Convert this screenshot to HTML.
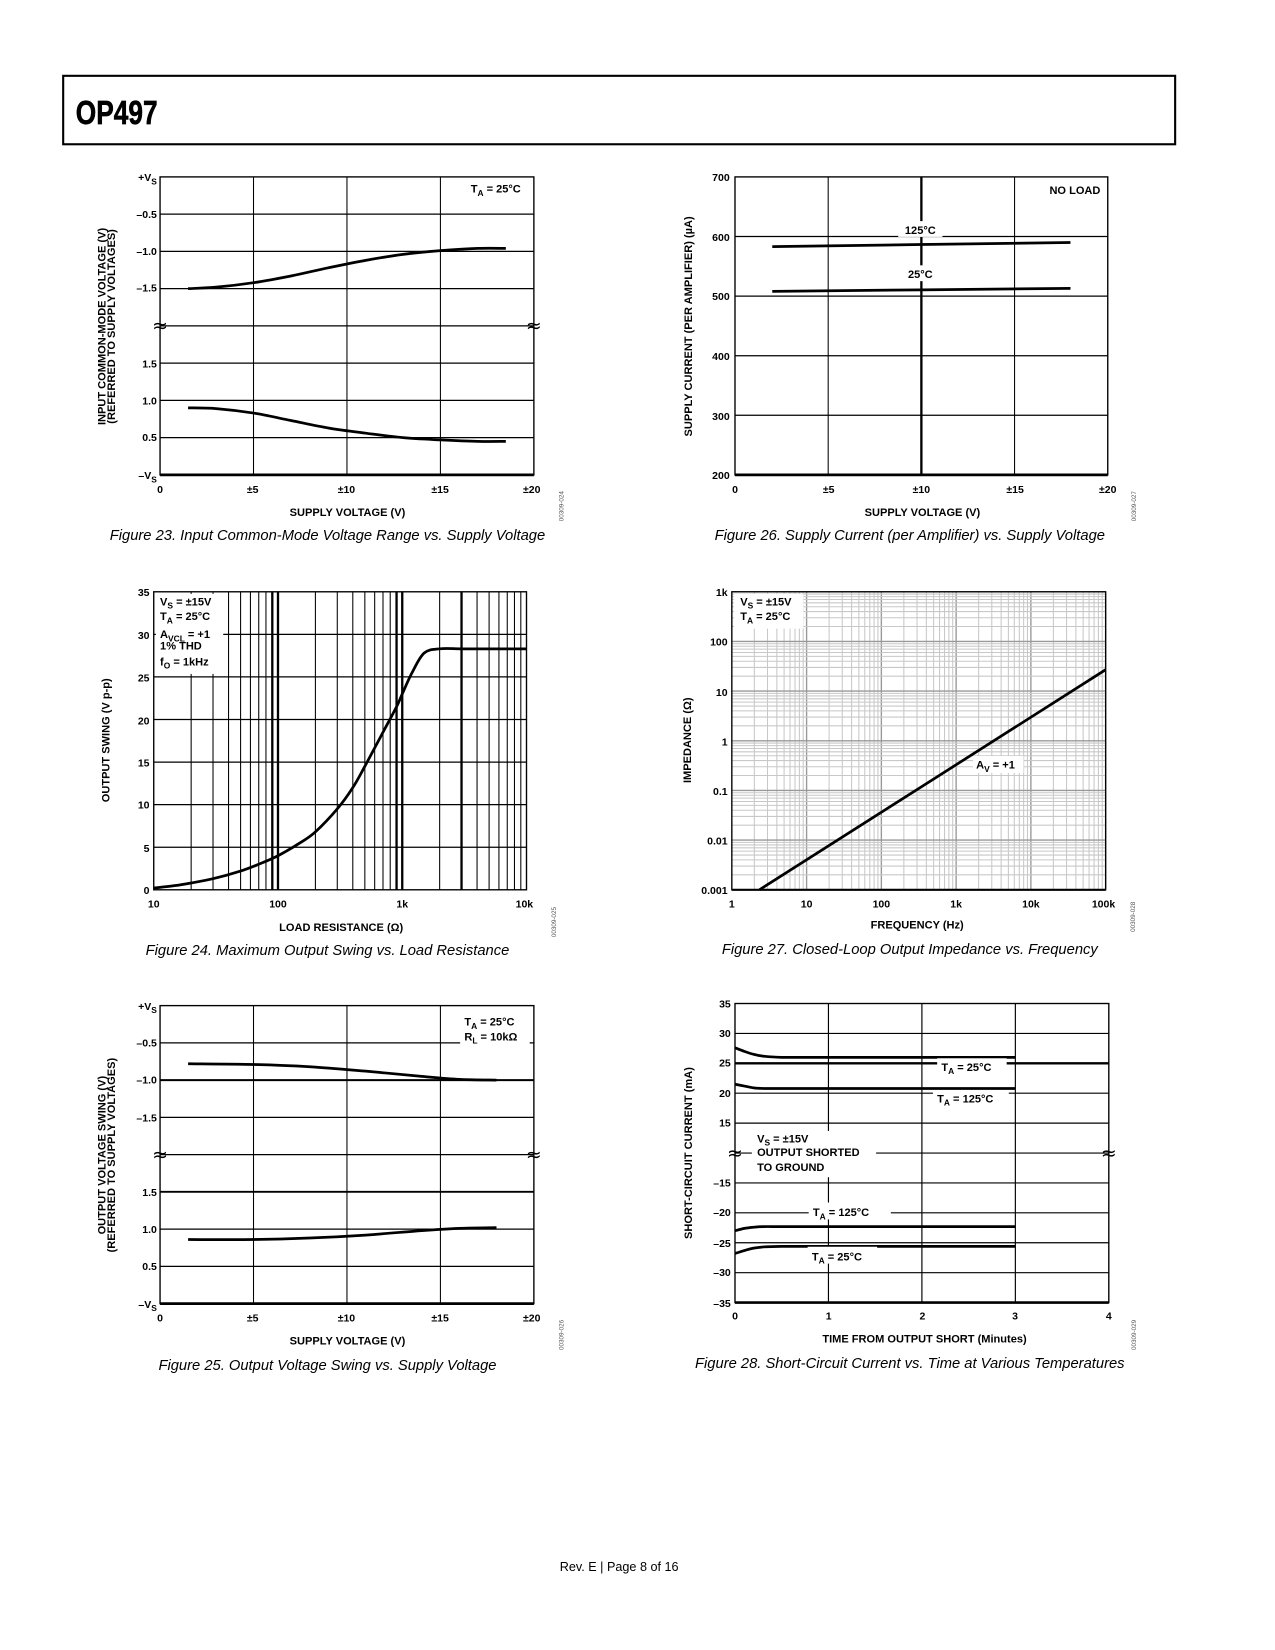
<!DOCTYPE html>
<html><head><meta charset="utf-8"><style>
html,body{margin:0;padding:0;background:#fff;}
svg{display:block;font-family:"Liberation Sans",Arial,sans-serif;}
.tk{font-size:10px;font-weight:bold;}
.at{font-size:10.5px;font-weight:bold;}
.cap{font-size:14px;font-style:italic;}
.lg{font-size:10.5px;font-weight:bold;}
.code{font-size:6px;fill:#555;}
</style></head><body>
<svg id="page" width="1275" height="1650" viewBox="0 0 1275 1650" xmlns="http://www.w3.org/2000/svg">
<g id="root" transform="scale(1.053)">
<rect x="60" y="72" width="1056" height="65" fill="none" stroke="#000" stroke-width="2"/>
<text x="72" y="118" font-size="32" font-weight="bold" stroke="#000" stroke-width="0.6" transform="translate(72 0) scale(0.78 1) translate(-72 0)" font-family="'Liberation Sans Narrow','Liberation Sans',sans-serif">OP497</text>
<g id="charts"></g>

<!-- Figure 23 labels -->
<g class="tk" text-anchor="end">
<text x="149" y="172">+V<tspan font-size="8" dy="3">S</tspan></text>
<text x="149" y="207">–0.5</text><text x="149" y="242">–1.0</text><text x="149" y="277">–1.5</text>
<text x="149" y="349">1.5</text><text x="149" y="384">1.0</text><text x="149" y="419">0.5</text>
<text x="149" y="455">–V<tspan font-size="8" dy="3">S</tspan></text>
</g>
<g class="tk" text-anchor="middle">
<text x="152" y="468">0</text><text x="240" y="468">±5</text><text x="329" y="468">±10</text><text x="418" y="468">±15</text><text x="505" y="468">±20</text></g>
<text class="at" x="330" y="490" text-anchor="middle">SUPPLY VOLTAGE (V)</text>
<text class="at" transform="translate(100 310) rotate(-90)" text-anchor="middle" font-size="10">INPUT COMMON-MODE VOLTAGE (V)<tspan x="0" dy="9">(REFERRED TO SUPPLY VOLTAGES)</tspan></text>
<g class="lg"><rect x="444" y="172" width="60" height="16" fill="#fff"/><text x="447" y="183">T<tspan font-size="8" dy="3">A</tspan><tspan dy="-3"> = 25°C</tspan></text></g>
<text class="code" transform="translate(535 495) rotate(-90)">00309-024</text>
<text class="cap" x="311" y="513" text-anchor="middle">Figure 23. Input Common-Mode Voltage Range vs. Supply Voltage</text>

<!-- Figure 26 labels -->
<g class="tk" text-anchor="end">
<text x="693" y="172">700</text><text x="693" y="229">600</text><text x="693" y="285">500</text><text x="693" y="342">400</text><text x="693" y="399">300</text><text x="693" y="455">200</text></g>
<g class="tk" text-anchor="middle">
<text x="698" y="468">0</text><text x="787" y="468">±5</text><text x="875" y="468">±10</text><text x="964" y="468">±15</text><text x="1052" y="468">±20</text></g>
<text class="at" x="876" y="490" text-anchor="middle">SUPPLY VOLTAGE (V)</text>
<text class="at" transform="translate(657 310) rotate(-90)" text-anchor="middle" font-size="10">SUPPLY CURRENT (PER AMPLIFIER) (µA)</text>
<g class="lg"><rect x="985" y="172" width="62" height="16" fill="#fff"/><text x="1045" y="184" text-anchor="end">NO LOAD</text></g>
<g class="lg"><rect x="853" y="210" width="42" height="15" fill="#fff"/><text x="874" y="222" text-anchor="middle">125°C</text>
<rect x="856" y="252" width="36" height="15" fill="#fff"/><text x="874" y="264" text-anchor="middle">25°C</text></g>
<text class="code" transform="translate(1079 495) rotate(-90)">00309-027</text>
<text class="cap" x="864" y="513" text-anchor="middle">Figure 26. Supply Current (per Amplifier) vs. Supply Voltage</text>

<!-- Figure 24 labels -->
<g class="tk" text-anchor="end">
<text x="142" y="566">35</text><text x="142" y="607">30</text><text x="142" y="647">25</text><text x="142" y="688">20</text><text x="142" y="728">15</text><text x="142" y="768">10</text><text x="142" y="809">5</text><text x="142" y="849">0</text></g>
<g class="tk" text-anchor="middle">
<text x="146" y="862">10</text><text x="264" y="862">100</text><text x="382" y="862">1k</text><text x="498" y="862">10k</text></g>
<text class="at" x="324" y="884" text-anchor="middle">LOAD RESISTANCE (Ω)</text>
<text class="at" transform="translate(104 703) rotate(-90)" text-anchor="middle" font-size="10">OUTPUT SWING (V p-p)</text>
<g class="lg"><rect x="148" y="564" width="64" height="76" fill="#fff"/>
<text x="152" y="575">V<tspan font-size="8" dy="3">S</tspan><tspan dy="-3"> = ±15V</tspan></text>
<text x="152" y="589">T<tspan font-size="8" dy="3">A</tspan><tspan dy="-3"> = 25°C</tspan></text>
<text x="152" y="606">A<tspan font-size="8" dy="3">VCL</tspan><tspan dy="-3"> = +1</tspan></text>
<text x="152" y="617">1% THD</text>
<text x="152" y="632">f<tspan font-size="8" dy="3">O</tspan><tspan dy="-3"> = 1kHz</tspan></text></g>
<text class="code" transform="translate(528 890) rotate(-90)">00309-025</text>
<text class="cap" x="311" y="907" text-anchor="middle">Figure 24. Maximum Output Swing vs. Load Resistance</text>

<!-- Figure 27 labels -->
<g class="tk" text-anchor="end">
<text x="691" y="566">1k</text><text x="691" y="613">100</text><text x="691" y="661">10</text><text x="691" y="708">1</text><text x="691" y="755">0.1</text><text x="691" y="802">0.01</text><text x="691" y="849">0.001</text></g>
<g class="tk" text-anchor="middle">
<text x="695" y="862">1</text><text x="766" y="862">10</text><text x="837" y="862">100</text><text x="908" y="862">1k</text><text x="979" y="862">10k</text><text x="1048" y="862">100k</text></g>
<text class="at" x="871" y="882" text-anchor="middle">FREQUENCY (Hz)</text>
<text class="at" transform="translate(656 703) rotate(-90)" text-anchor="middle" font-size="10">IMPEDANCE (Ω)</text>
<g class="lg"><rect x="697" y="564" width="66" height="33" fill="#fff"/>
<text x="703" y="575">V<tspan font-size="8" dy="3">S</tspan><tspan dy="-3"> = ±15V</tspan></text>
<text x="703" y="589">T<tspan font-size="8" dy="3">A</tspan><tspan dy="-3"> = 25°C</tspan></text></g>
<g class="lg"><rect x="924" y="718" width="48" height="16" fill="#fff"/><text x="927" y="730">A<tspan font-size="8" dy="3">V</tspan><tspan dy="-3"> = +1</tspan></text></g>
<text class="code" transform="translate(1078 885) rotate(-90)">00309-028</text>
<text class="cap" x="864" y="906" text-anchor="middle">Figure 27. Closed-Loop Output Impedance vs. Frequency</text>

<!-- Figure 25 labels -->
<g class="tk" text-anchor="end">
<text x="149" y="959">+V<tspan font-size="8" dy="3">S</tspan></text>
<text x="149" y="994">–0.5</text><text x="149" y="1029">–1.0</text><text x="149" y="1065">–1.5</text>
<text x="149" y="1136">1.5</text><text x="149" y="1171">1.0</text><text x="149" y="1206">0.5</text>
<text x="149" y="1242">–V<tspan font-size="8" dy="3">S</tspan></text></g>
<g class="tk" text-anchor="middle">
<text x="152" y="1255">0</text><text x="240" y="1255">±5</text><text x="329" y="1255">±10</text><text x="418" y="1255">±15</text><text x="505" y="1255">±20</text></g>
<text class="at" x="330" y="1277" text-anchor="middle">SUPPLY VOLTAGE (V)</text>
<text class="at" transform="translate(100 1097) rotate(-90)" text-anchor="middle" font-size="10">OUTPUT VOLTAGE SWING (V)<tspan x="0" dy="9">(REFERRED TO SUPPLY VOLTAGES)</tspan></text>
<g class="lg"><rect x="437" y="962" width="66" height="30" fill="#fff"/>
<text x="441" y="974">T<tspan font-size="8" dy="3">A</tspan><tspan dy="-3"> = 25°C</tspan></text>
<text x="441" y="988">R<tspan font-size="8" dy="3">L</tspan><tspan dy="-3"> = 10kΩ</tspan></text></g>
<text class="code" transform="translate(535 1282) rotate(-90)">00309-026</text>
<text class="cap" x="311" y="1301" text-anchor="middle">Figure 25. Output Voltage Swing vs. Supply Voltage</text>

<!-- Figure 28 labels -->
<g class="tk" text-anchor="end">
<text x="694" y="957">35</text><text x="694" y="985">30</text><text x="694" y="1013">25</text><text x="694" y="1042">20</text><text x="694" y="1070">15</text>
<text x="694" y="1127">–15</text><text x="694" y="1155">–20</text><text x="694" y="1184">–25</text><text x="694" y="1212">–30</text><text x="694" y="1241">–35</text></g>
<g class="tk" text-anchor="middle">
<text x="698" y="1253">0</text><text x="787" y="1253">1</text><text x="876" y="1253">2</text><text x="964" y="1253">3</text><text x="1053" y="1253">4</text></g>
<text class="at" x="878" y="1275" text-anchor="middle">TIME FROM OUTPUT SHORT (Minutes)</text>
<text class="at" transform="translate(657 1095) rotate(-90)" text-anchor="middle" font-size="10">SHORT-CIRCUIT CURRENT (mA)</text>
<g class="lg">
<rect x="890" y="1005" width="66" height="16" fill="#fff"/><text x="894" y="1017">T<tspan font-size="8" dy="3">A</tspan><tspan dy="-3"> = 25°C</tspan></text>
<rect x="886" y="1036" width="72" height="16" fill="#fff"/><text x="890" y="1047">T<tspan font-size="8" dy="3">A</tspan><tspan dy="-3"> = 125°C</tspan></text>
<rect x="714" y="1074" width="118" height="44" fill="#fff"/>
<text x="719" y="1085">V<tspan font-size="8" dy="3">S</tspan><tspan dy="-3"> = ±15V</tspan></text>
<text x="719" y="1098">OUTPUT SHORTED</text><text x="719" y="1112">TO GROUND</text>
<rect x="768" y="1142" width="78" height="16" fill="#fff"/><text x="772" y="1155">T<tspan font-size="8" dy="3">A</tspan><tspan dy="-3"> = 125°C</tspan></text>
<rect x="767" y="1184" width="66" height="16" fill="#fff"/><text x="771" y="1197">T<tspan font-size="8" dy="3">A</tspan><tspan dy="-3"> = 25°C</tspan></text></g>
<text class="code" transform="translate(1079 1282) rotate(-90)">00309-029</text>
<text class="cap" x="864" y="1299" text-anchor="middle">Figure 28. Short-Circuit Current vs. Time at Various Temperatures</text>

<text x="588" y="1492" text-anchor="middle" font-size="12">Rev. E | Page 8 of 16</text>
</g>
</svg>
<script>
// ---- data ----
const f23Supply = [1.5, 3, 5, 7, 9, 11, 13, 15, 17, 18.5];
const f23Upper = [-1.5, -1.48, -1.42, -1.33, -1.22, -1.12, -1.04, -0.99, -0.96, -0.96];
const f23Lower = [0.9, 0.89, 0.83, 0.73, 0.63, 0.56, 0.5, 0.47, 0.45, 0.45];
const f26Supply = [2, 18];
const f26I125 = [583, 590];
const f26I25 = [508, 513];
const f24Load = [10, 15, 20, 30, 50, 70, 100, 150, 200, 300, 400, 500, 700, 900, 1000, 1200, 1500, 2000, 3000, 5000, 10000];
const f24Swing = [0.2, 0.5, 0.8, 1.3, 2.2, 3.0, 4.0, 5.5, 6.8, 9.5, 12, 14.5, 18.5, 21.5, 23, 25.5, 27.8, 28.3, 28.3, 28.3, 28.3];
const f27Freq = [2.34, 100000];
const f27Z = [0.001, 27];
const f25Supply = [1.5, 5, 8, 11, 14, 16, 18];
const f25Upper = [-0.78, -0.79, -0.82, -0.88, -0.95, -0.99, -1.0];
const f25Lower = [0.86, 0.86, 0.88, 0.92, 0.98, 1.01, 1.02];
const f28Time = [0, 0.1, 0.2, 0.3, 0.5, 1, 2, 3];
const f28P25 = [27.6, 27.0, 26.5, 26.2, 26.0, 26.0, 26.0, 26.0];
const f28P125 = [21.5, 21.2, 20.9, 20.8, 20.8, 20.8, 20.8, 20.8];
const f28N125 = [-23, -22.6, -22.4, -22.3, -22.3, -22.3, -22.3, -22.3];
const f28N25 = [-26.8, -26.3, -25.9, -25.7, -25.6, -25.6, -25.6, -25.6];

const NS = 'http://www.w3.org/2000/svg';
const G = document.getElementById('charts');
function mk(tag) { const e = document.createElementNS(NS, tag); G.appendChild(e); return e; }
function ln(x1, y1, x2, y2, w, c, name) {
  const e = mk('line');
  e.setAttribute('x1', x1); e.setAttribute('y1', y1); e.setAttribute('x2', x2); e.setAttribute('y2', y2);
  e.setAttribute('stroke', c || '#000'); e.setAttribute('stroke-width', w);
  
  
  return e;
}
function curve(xs, ys, fx, fy, name, w) {
  const P = xs.map((v, i) => [fx(v), fy(ys[i])]);
  let d = 'M' + P[0][0].toFixed(2) + ',' + P[0][1].toFixed(2);
  for (let i = 0; i < P.length - 1; i++) {
    const p0 = P[i - 1] || P[i], p1 = P[i], p2 = P[i + 1], p3 = P[i + 2] || P[i + 1];
    const c1 = [p1[0] + (p2[0] - p0[0]) / 6, p1[1] + (p2[1] - p0[1]) / 6];
    const c2 = [p2[0] - (p3[0] - p1[0]) / 6, p2[1] - (p3[1] - p1[1]) / 6];
    d += 'C' + c1.map(n => n.toFixed(2)).join(',') + ' ' + c2.map(n => n.toFixed(2)).join(',') + ' ' + p2.map(n => n.toFixed(2)).join(',');
  }
  const e = mk('path');
  e.setAttribute('d', d);
  e.setAttribute('fill', 'none'); e.setAttribute('stroke', '#000'); e.setAttribute('stroke-width', w || 2.6);
  e.setAttribute('stroke-linejoin', 'round');
  
  
  return e;
}
function frame(x0, y0, x1, y1, name) {
  const e = mk('rect');
  e.setAttribute('x', x0); e.setAttribute('y', y0); e.setAttribute('width', x1 - x0); e.setAttribute('height', y1 - y0);
  e.setAttribute('fill', 'none'); e.setAttribute('stroke', '#000'); e.setAttribute('stroke-width', 1.3);
  
  
}
function brk(x, y, name) {
  const e = mk('text');
  e.setAttribute('x', x); e.setAttribute('y', y + 6); e.setAttribute('font-size', 18); e.setAttribute('text-anchor', 'middle');
  e.setAttribute('font-family', 'DejaVu Sans, sans-serif');
  e.textContent = '≈';
  
  
}
const lin = (a, b, p, q) => v => p + (v - a) / (b - a) * (q - p);
const lg = (a, b, p, q) => v => p + (Math.log10(v) - Math.log10(a)) / (Math.log10(b) - Math.log10(a)) * (q - p);

function splitChart(pre, x0, y0, x1, y1, xs, up, lo, extraLine) {
  const fx = lin(0, 20, x0, x1);
  const row = (y1 - y0) / 8;
  const fyU = v => y0 + (-v / 0.5) * row;
  const fyL = v => y0 + (8 - v / 0.5) * row;
  for (let i = 1; i < 4; i++) ln(fx(i * 5), y0, fx(i * 5), y1, 1, '#000', pre + '-vgrid');
  for (let r = 1; r < 8; r++) ln(x0, y0 + r * row, x1, y0 + r * row, (extraLine && (r === 2 || r === 5)) ? 1.8 : 1.2, '#000', pre + '-hgrid');
  frame(x0, y0, x1, y1, pre + '-plot-frame');
  ln(x0, y1, x1, y1, 2.6, '#000', pre + '-x-axis');
  brk(x0, y0 + 4 * row, pre + '-break-left'); brk(x1, y0 + 4 * row, pre + '-break-right');
  curve(xs, up, fx, fyU, pre + '-upper-curve');
  curve(xs, lo, fx, fyL, pre + '-lower-curve');
}
splitChart('fig23', 152, 168, 507, 451, f23Supply, f23Upper, f23Lower, false);
splitChart('fig25', 152, 955, 507, 1238, f25Supply, f25Upper, f25Lower, true);

(function () {
  const x0 = 698, x1 = 1052, y0 = 168, y1 = 451;
  const fx = lin(0, 20, x0, x1), fy = lin(200, 700, y1, y0);
  for (let v = 5; v < 20; v += 5) ln(fx(v), y0, fx(v), y1, v === 10 ? 2.2 : 1, '#000', 'fig26-vgrid');
  for (let v = 300; v < 700; v += 100) ln(x0, fy(v), x1, fy(v), 1.2, '#000', 'fig26-hgrid');
  frame(x0, y0, x1, y1, 'fig26-plot-frame');
  ln(x0, y1, x1, y1, 2.6, '#000', 'fig26-x-axis');
  curve(f26Supply, f26I125, fx, fy, 'fig26-125c-line');
  curve(f26Supply, f26I25, fx, fy, 'fig26-25c-line');
})();

(function () {
  const x0 = 146, x1 = 500, y0 = 562, y1 = 845;
  const fx = lg(10, 10000, x0, x1), fy = lin(0, 35, y1, y0);
  for (let d = 10; d < 10000; d *= 10) for (let m = 2; m <= 9; m++) {
    const v = d * m;
    const thick = (v === 90 || v === 900 || v === 3000);
    ln(fx(v), y0, fx(v), y1, thick ? 2.2 : 1, '#000', 'fig24-vgrid');
  }
  ln(fx(100), y0, fx(100), y1, 2.2, '#000', 'fig24-vgrid-major');
  ln(fx(1000), y0, fx(1000), y1, 2.2, '#000', 'fig24-vgrid-major');
  for (let v = 5; v < 35; v += 5) ln(x0, fy(v), x1, fy(v), 1.2, '#000', 'fig24-hgrid');
  frame(x0, y0, x1, y1, 'fig24-plot-frame');
  curve(f24Load, f24Swing, fx, fy, 'fig24-swing-curve');
})();

(function () {
  const x0 = 695, x1 = 1050, y0 = 562, y1 = 845;
  const fx = lg(1, 100000, x0, x1), fy = lg(0.001, 1000, y1, y0);
  for (let d = 1; d < 100000; d *= 10) for (let m = 2; m <= 10; m++) ln(fx(d * m), y0, fx(d * m), y1, m === 10 ? 1.3 : 1, m === 10 ? '#999' : '#c8c8c8', 'fig27-vgrid');
  for (let d = 0.001; d < 999; d *= 10) for (let m = 2; m <= 10; m++) ln(x0, fy(d * m), x1, fy(d * m), m === 10 ? 1.3 : 1, m === 10 ? '#999' : '#c8c8c8', 'fig27-hgrid');
  frame(x0, y0, x1, y1, 'fig27-plot-frame');
  ln(x0, y1, x1, y1, 2, '#000', 'fig27-x-axis');
  curve(f27Freq, f27Z, fx, fy, 'fig27-impedance-line');
})();

(function () {
  const x0 = 698, x1 = 1053, y0 = 953, y1 = 1237;
  const row = (y1 - y0) / 10;
  const fx = lin(0, 4, x0, x1);
  const fy = v => v > 0 ? y0 + (35 - v) / 5 * row : y0 + (10 - (v + 35) / 5) * row;
  for (let t = 1; t < 4; t++) ln(fx(t), y0, fx(t), y1, 1.1, '#000', 'fig28-vgrid');
  for (let r = 1; r < 10; r++) ln(x0, y0 + r * row, x1, y0 + r * row, r === 2 ? 2.2 : 1.1, '#000', 'fig28-hgrid');
  frame(x0, y0, x1, y1, 'fig28-plot-frame');
  ln(x0, y1, x1, y1, 2.6, '#000', 'fig28-x-axis');
  brk(x0, y0 + 5 * row, 'fig28-break-left'); brk(x1, y0 + 5 * row, 'fig28-break-right');
  curve(f28Time, f28P25, fx, fy, 'fig28-pos-25c');
  curve(f28Time, f28P125, fx, fy, 'fig28-pos-125c');
  curve(f28Time, f28N125, fx, fy, 'fig28-neg-125c');
  curve(f28Time, f28N25, fx, fy, 'fig28-neg-25c');
})();
</script>
</body></html>
